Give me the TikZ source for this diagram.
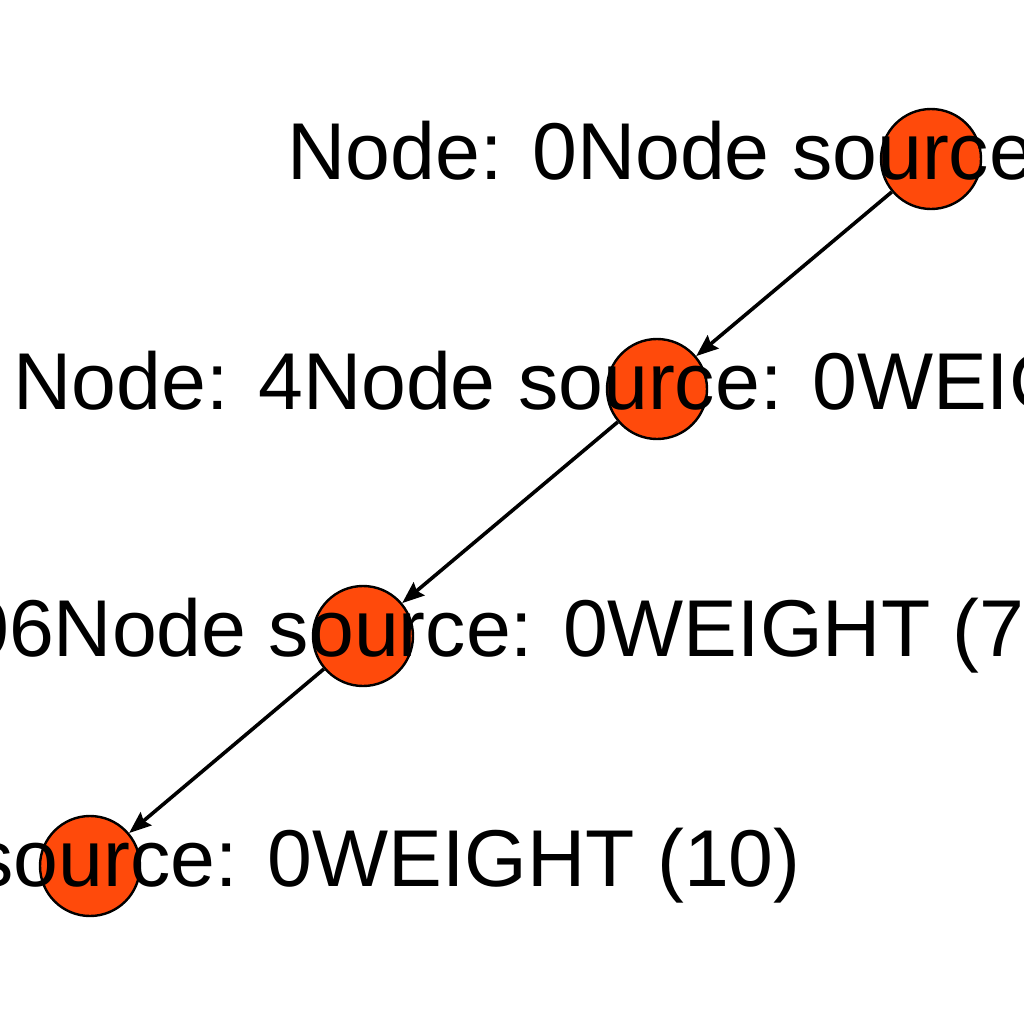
\documentclass[tikz,border=0pt]{standalone}
\usepackage{fontspec}
\setmainfont{Liberation Sans}
\usetikzlibrary{arrows.meta}
\definecolor{myred}{HTML}{FF4A0B}

\begin{document}
\begin{tikzpicture}[x=1bp,y=-1bp]
\tikzset{VertexStyle/.style ={shape=circle, draw=black, line width=2.4bp, fill=myred, minimum size=100bp, inner sep=0pt}}
\tikzset{EdgeStyle/.style ={-{Stealth[length=22bp,width=17bp,inset=3bp]}, line width=3.6bp, color=black}}
\tikzset{LabelStyle/.style ={inner sep=0pt, font=\fontsize{80.6bp}{97bp}\selectfont}}
\useasboundingbox (0,0) rectangle (1024,1024);
\clip (0,0) rectangle (1024,1024);
\fill[white] (0,0) rectangle (1024,1024);
\node[VertexStyle] (v0) at (931,159) {};
\node[VertexStyle] (v4) at (657,389) {};
\node[VertexStyle] (v106) at (363,636) {};
\node[VertexStyle] (v107) at (90,866) {};
\draw[EdgeStyle] (v0) -- (v4);
\draw[EdgeStyle] (v4) -- (v106);
\draw[EdgeStyle] (v106) -- (v107);
\node[LabelStyle] (l0) at (v0) {Node: 0Node source: 0WEIGHT (0)};
\node[LabelStyle] (l4) at (v4) {Node: 4Node source: 0WEIGHT (4)};
\node[LabelStyle] (l106) at (v106) {Node: 106Node source: 0WEIGHT (7)};
\node[LabelStyle] (l107) at (v107) {Node: 107Node source: 0WEIGHT (10)};
\end{tikzpicture}
\end{document}
